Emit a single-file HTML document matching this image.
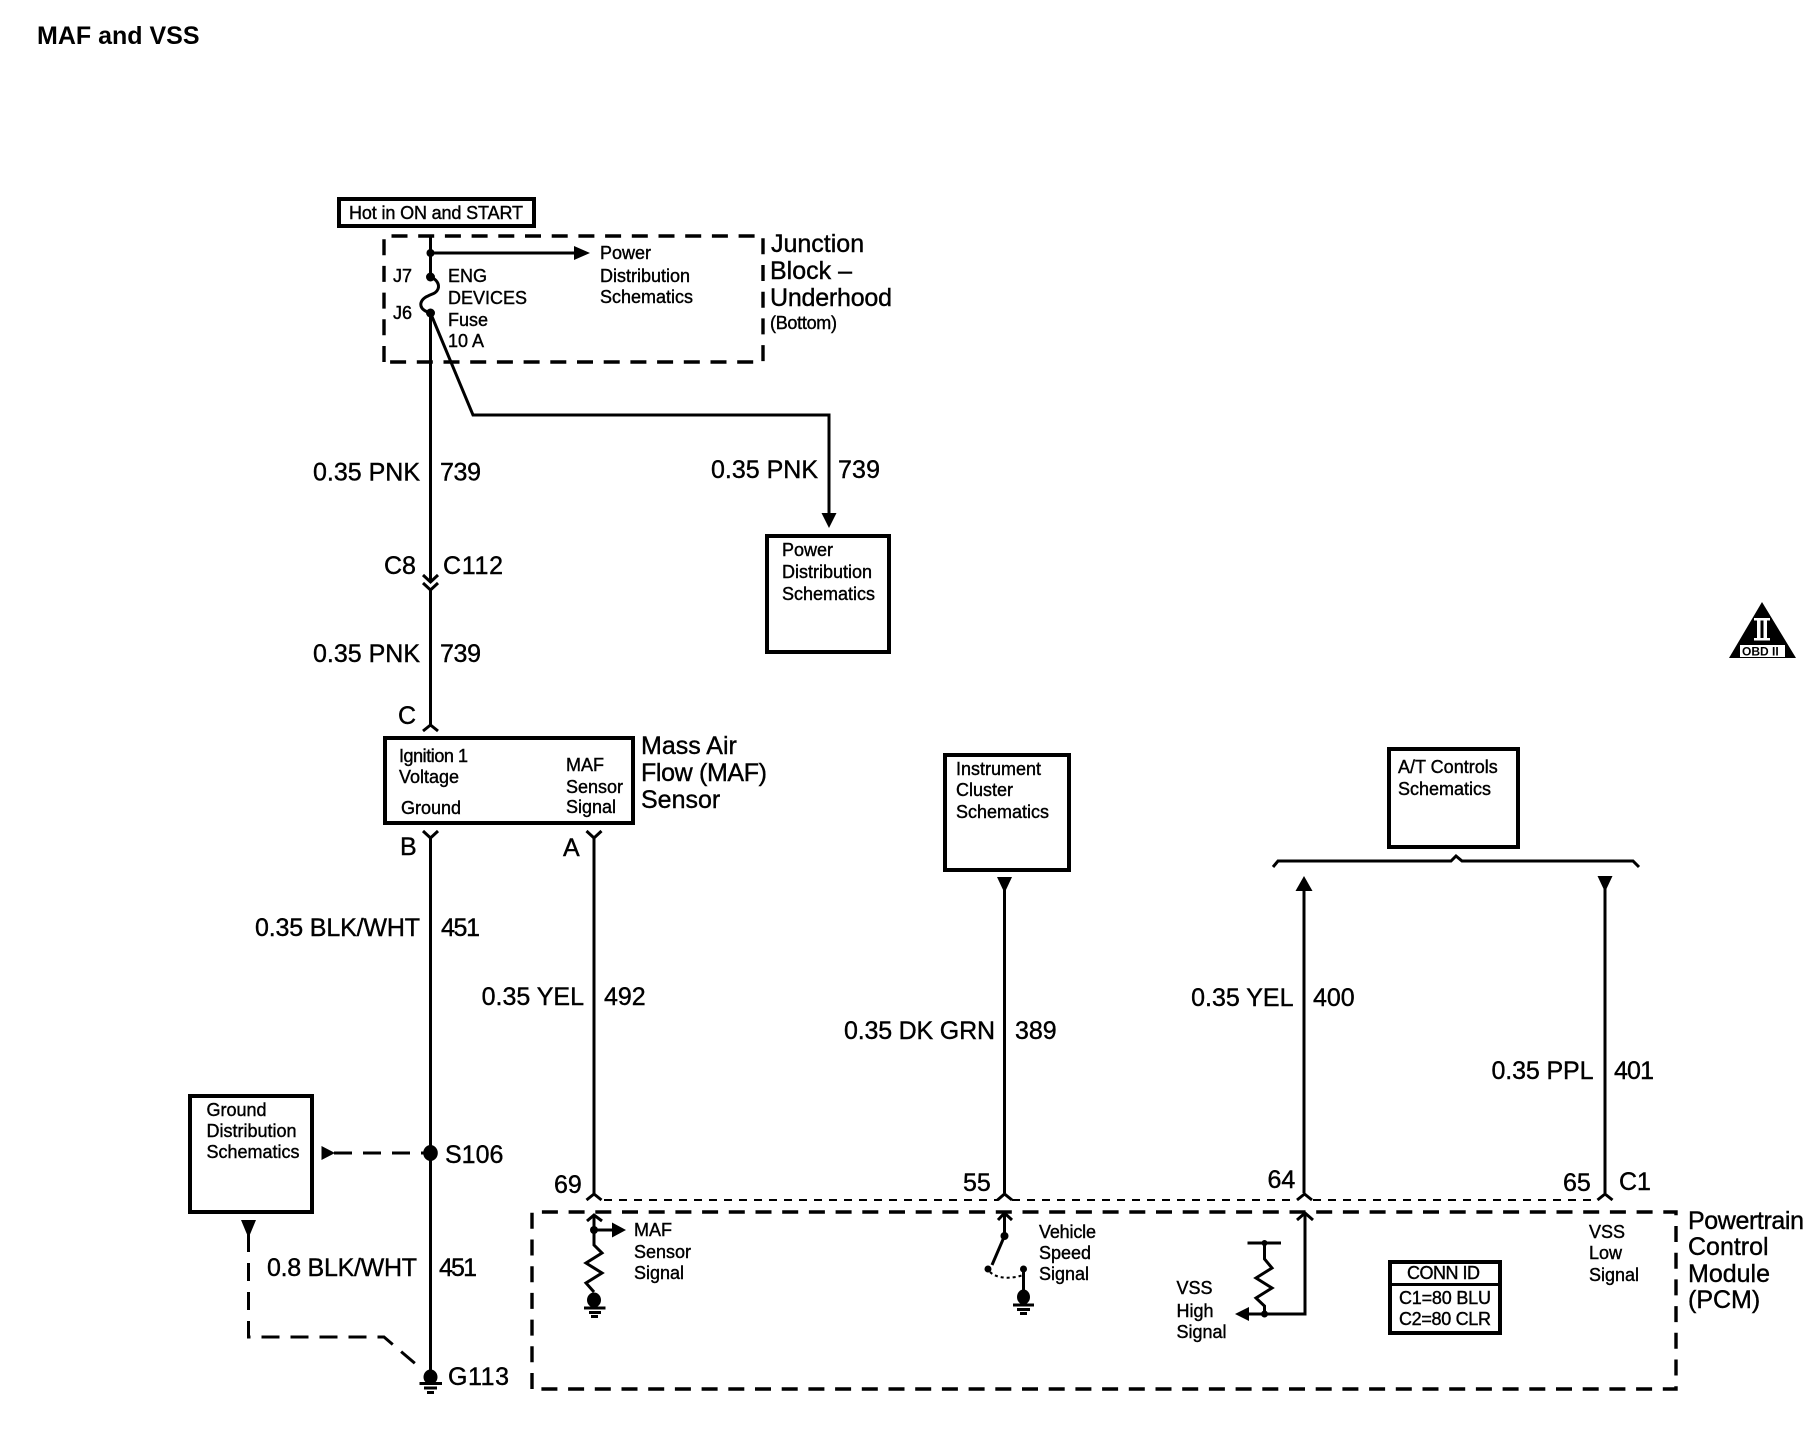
<!DOCTYPE html>
<html>
<head>
<meta charset="utf-8">
<title>MAF and VSS</title>
<style>
html,body{margin:0;padding:0;background:#fff;}
svg{display:block;}
text{font-family:"Liberation Sans",Arial,sans-serif;fill:#000;stroke:#000;stroke-width:.4px;}
.s{font-size:18px;}
.m{font-size:25px;}
.e{text-anchor:end;}
.w{fill:none;stroke:#000;stroke-width:3;}
.t{fill:none;stroke:#000;stroke-width:2;}
.b{fill:none;stroke:#000;stroke-width:4;}
.d{fill:none;stroke:#000;stroke-width:3.4;stroke-dasharray:16 10.7;}
.f{fill:#000;stroke:none;}
</style>
</head>
<body>
<svg width="1820" height="1440" viewBox="0 0 1820 1440" xmlns="http://www.w3.org/2000/svg">
<rect width="1820" height="1440" fill="#fff"/>

<text x="37" y="44" style="font-size:25px;font-weight:bold;stroke-width:0">MAF and VSS</text>

<!-- Hot box -->
<rect class="b" x="339" y="199" width="195" height="27"/>
<text class="s" x="349" y="219" textLength="174" lengthAdjust="spacing">Hot in ON and START</text>

<!-- Junction block -->
<path class="d" d="M384 362V236H763V362Z"/>
<path class="w" d="M430.5 236V277"/>
<path class="w" d="M430.5 253H576"/>
<path class="f" d="M574 246L590 253L574 260Z"/>
<circle class="f" cx="430.5" cy="253" r="4"/>
<circle class="f" cx="430.5" cy="277" r="4.5"/>
<circle class="f" cx="430.5" cy="313" r="4.5"/>
<path class="w" d="M430.5 277C436 279 440 284 438 289C436 294 431 294 428 296C423 298 420 302 421 306C422 310 427 312 430.5 313"/>
<text class="s" x="393" y="282">J7</text>
<text class="s" x="393" y="319">J6</text>
<text class="s" x="448" y="282">ENG</text>
<text class="s" x="448" y="304">DEVICES</text>
<text class="s" x="448" y="326">Fuse</text>
<text class="s" x="448" y="347">10 A</text>
<text class="s" x="600" y="259">Power</text>
<text class="s" x="600" y="282">Distribution</text>
<text class="s" x="600" y="303">Schematics</text>
<text class="m" x="771" y="252">Junction</text>
<text class="m" x="770" y="279">Block –</text>
<text class="m" x="770" y="306" textLength="122" lengthAdjust="spacing">Underhood</text>
<text class="s" x="770" y="329" textLength="67" lengthAdjust="spacing">(Bottom)</text>

<!-- Main wire -->
<path class="w" d="M430.5 313V582"/>
<path class="w" d="M430.5 313L473 415H829V515"/>
<path class="f" d="M821.5 513H836.5L829 528Z"/>
<text class="m e" x="420" y="480.5">0.35 PNK</text>
<text class="m" x="440" y="480.5" textLength="41" lengthAdjust="spacing">739</text>
<text class="m e" x="818" y="478">0.35 PNK</text>
<text class="m" x="838" y="478" textLength="42" lengthAdjust="spacing">739</text>

<rect class="b" x="767" y="536" width="122" height="116"/>
<text class="s" x="782" y="556">Power</text>
<text class="s" x="782" y="578">Distribution</text>
<text class="s" x="782" y="600">Schematics</text>

<!-- C8 -->
<text class="m" x="384" y="574">C8</text>
<text class="m" x="443" y="574" textLength="60" lengthAdjust="spacing">C112</text>
<path class="w" d="M423 575L430.5 582L438 575"/>
<path class="w" d="M423 583L430.5 590L438 583"/>
<path class="w" d="M430.5 590V725"/>
<text class="m e" x="420" y="662">0.35 PNK</text>
<text class="m" x="440" y="662" textLength="41" lengthAdjust="spacing">739</text>
<text class="m" x="398" y="724">C</text>
<path class="w" d="M423 731L430.5 725L438 731"/>

<!-- MAF -->
<rect class="b" x="385" y="738" width="248" height="85"/>
<text class="s" x="399" y="762" textLength="69" lengthAdjust="spacing">Ignition 1</text>
<text class="s" x="399" y="783">Voltage</text>
<text class="s" x="401" y="814">Ground</text>
<text class="s" x="566" y="771">MAF</text>
<text class="s" x="566" y="793">Sensor</text>
<text class="s" x="566" y="813">Signal</text>
<text class="m" x="641" y="754">Mass Air</text>
<text class="m" x="641" y="781" textLength="126" lengthAdjust="spacing">Flow (MAF)</text>
<text class="m" x="641" y="808">Sensor</text>

<text class="m" x="400" y="855">B</text>
<text class="m" x="563" y="856">A</text>
<path class="w" d="M423 831L430.5 838L438 831"/>
<path class="w" d="M586.5 831L594 838L601.5 831"/>
<path class="w" d="M430.5 838V1377"/>
<path class="w" d="M594 838V1194"/>
<text class="m e" x="420" y="936" textLength="165" lengthAdjust="spacing">0.35 BLK/WHT</text>
<text class="m" x="441" y="936" textLength="39" lengthAdjust="spacing">451</text>
<text class="m e" x="584" y="1005">0.35 YEL</text>
<text class="m" x="604" y="1005">492</text>

<!-- S106 -->
<rect class="b" x="190" y="1096" width="122" height="116"/>
<text class="s" x="206.5" y="1116">Ground</text>
<text class="s" x="206.5" y="1137">Distribution</text>
<text class="s" x="206.5" y="1158">Schematics</text>
<path class="f" d="M321.5 1146L335 1153L321.5 1160Z"/>
<path class="w" style="stroke-dasharray:18 11" d="M334 1153H430"/>
<ellipse class="f" cx="430.5" cy="1153" rx="7.3" ry="8"/>
<text class="m" x="445" y="1163">S106</text>
<text class="m e" x="417" y="1276" textLength="150" lengthAdjust="spacing">0.8 BLK/WHT</text>
<text class="m" x="439" y="1276" textLength="38" lengthAdjust="spacing">451</text>

<path class="f" d="M241 1220H256L248.5 1238Z"/>
<path class="w" style="stroke-dasharray:18 11" d="M248.5 1234V1337H384L418 1366"/>

<!-- G113 -->
<ellipse class="f" cx="430.5" cy="1377" rx="7" ry="7.5"/>
<path class="w" d="M419.5 1383.5H442"/>
<path class="w" d="M424 1388H437"/>
<path class="w" d="M427 1392.5H434"/>
<text class="m" x="448" y="1385" textLength="61" lengthAdjust="spacing">G113</text>

<!-- Instrument -->
<rect class="b" x="945" y="755" width="124" height="115"/>
<text class="s" x="956" y="775">Instrument</text>
<text class="s" x="956" y="796">Cluster</text>
<text class="s" x="956" y="818">Schematics</text>
<path class="f" d="M997 877H1012L1004.5 893Z"/>
<path class="w" d="M1004.5 888V1193"/>
<text class="m e" x="995" y="1039" textLength="151" lengthAdjust="spacing">0.35 DK GRN</text>
<text class="m" x="1015" y="1039">389</text>

<!-- AT -->
<rect class="b" x="1389" y="749" width="129" height="98"/>
<text class="s" x="1398" y="773">A/T Controls</text>
<text class="s" x="1398" y="795">Schematics</text>
<path class="w" d="M1273 867L1278 861H1451L1456 856L1462 861H1633L1639 867"/>
<path class="f" d="M1295.5 891H1312.5L1304 876Z"/>
<path class="w" d="M1304 890V1193"/>
<path class="f" d="M1597.5 876H1612.5L1605 892Z"/>
<path class="w" d="M1605 888V1193"/>
<text class="m e" x="1293.5" y="1006">0.35 YEL</text>
<text class="m" x="1313" y="1006">400</text>
<text class="m e" x="1593.5" y="1079" textLength="102" lengthAdjust="spacing">0.35 PPL</text>
<text class="m" x="1614" y="1079" textLength="40" lengthAdjust="spacing">401</text>

<!-- OBD -->
<path class="f" d="M1762 602L1796 658H1729Z"/>
<rect x="1754" y="618" width="16" height="2.5" fill="#fff"/>
<rect x="1754" y="638" width="16" height="2.5" fill="#fff"/>
<rect x="1757" y="620" width="3.5" height="18" fill="#fff"/>
<rect x="1763.5" y="620" width="3.5" height="18" fill="#fff"/>
<rect x="1740" y="645" width="45" height="12" fill="#fff"/>
<text x="1742" y="655.5" style="font-size:12px;font-weight:bold;stroke-width:0">OBD II</text>

<!-- PCM connectors -->
<path class="t" stroke-dasharray="8 7" d="M604 1200H998M1012 1200H1297M1313 1200H1597"/>
<path class="w" d="M586.5 1200L594 1194L601.5 1200"/>
<path class="w" d="M997.5 1200L1004.5 1194L1012 1200"/>
<path class="w" d="M1297 1200L1304.5 1194L1312 1200"/>
<path class="w" d="M1597.5 1200L1605 1194L1612.5 1200"/>
<text class="m" x="554" y="1193">69</text>
<text class="m" x="963" y="1191">55</text>
<text class="m" x="1267.5" y="1188">64</text>
<text class="m" x="1563" y="1191">65</text>
<text class="m" x="1619" y="1190">C1</text>

<!-- PCM -->
<path class="d" d="M532 1389V1212H1676V1389Z"/>
<text class="m" x="1688" y="1229" textLength="116" lengthAdjust="spacing">Powertrain</text>
<text class="m" x="1688" y="1255">Control</text>
<text class="m" x="1688" y="1282">Module</text>
<text class="m" x="1688" y="1308">(PCM)</text>

<!-- MAF internal -->
<path class="w" d="M587 1221L594 1215L602 1221"/>
<path class="w" d="M594 1215V1245L602 1253L586 1263L602 1273L586 1283L594 1292"/>
<circle class="f" cx="594" cy="1230" r="4"/>
<path class="w" d="M594 1230H613"/>
<path class="f" d="M612 1222.5L626 1230L612 1237.5Z"/>
<ellipse class="f" cx="594" cy="1300" rx="7" ry="7.5"/>
<path class="w" d="M584 1308H605.5"/>
<path class="w" d="M589 1312.5H601"/>
<path class="w" d="M591 1316.5H598"/>
<text class="s" x="634" y="1236">MAF</text>
<text class="s" x="634" y="1258">Sensor</text>
<text class="s" x="634" y="1279">Signal</text>

<!-- Vehicle internal -->
<path class="w" d="M998 1220L1004.5 1213L1012 1220"/>
<path class="w" d="M1004.5 1213V1236L992 1265"/>
<circle class="f" cx="1004.5" cy="1236" r="4"/>
<circle class="f" cx="988" cy="1269" r="3.5"/>
<circle class="f" cx="1023.5" cy="1269" r="3.5"/>
<path class="t" stroke-dasharray="3 3" d="M990 1272C997 1279 1012 1279 1023 1275"/>
<path class="w" d="M1023.5 1269V1295"/>
<ellipse class="f" cx="1023.5" cy="1297" rx="6.5" ry="7.5"/>
<path class="w" d="M1013 1305H1034"/>
<path class="w" d="M1017 1309.5H1030"/>
<path class="w" d="M1020 1313.5H1027"/>
<text class="s" x="1039" y="1238" textLength="57" lengthAdjust="spacing">Vehicle</text>
<text class="s" x="1039" y="1259">Speed</text>
<text class="s" x="1039" y="1280">Signal</text>

<!-- VSS high internal -->
<path class="w" d="M1297 1220L1305 1213L1313 1220"/>
<path class="w" d="M1305 1213V1314H1248"/>
<path class="f" d="M1249 1307L1235 1314L1249 1321Z"/>
<path class="w" d="M1247.5 1243H1281"/>
<path class="w" d="M1264.5 1243V1259L1272 1268L1256 1278L1272 1288L1256 1298L1264.5 1306V1314"/>
<circle class="f" cx="1264.5" cy="1243" r="3"/>
<circle class="f" cx="1264.5" cy="1314" r="3.5"/>
<text class="s" x="1176.5" y="1294">VSS</text>
<text class="s" x="1176.5" y="1317">High</text>
<text class="s" x="1176.5" y="1338">Signal</text>

<!-- CONN ID -->
<rect class="b" x="1390" y="1262" width="110" height="71"/>
<path class="w" d="M1390 1284.5H1500"/>
<text class="s" x="1407" y="1279" textLength="73" lengthAdjust="spacing">CONN ID</text>
<text class="s" x="1399" y="1304" textLength="92" lengthAdjust="spacing">C1=80 BLU</text>
<text class="s" x="1399" y="1325" textLength="92" lengthAdjust="spacing">C2=80 CLR</text>

<text class="s" x="1589" y="1238">VSS</text>
<text class="s" x="1589" y="1259">Low</text>
<text class="s" x="1589" y="1281">Signal</text>
</svg>
</body>
</html>
